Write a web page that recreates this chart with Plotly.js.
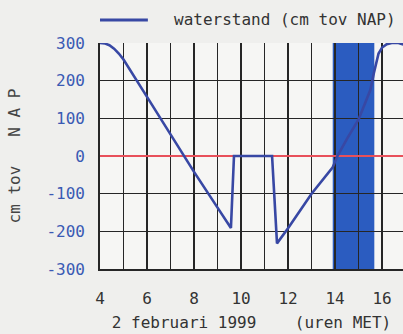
<!DOCTYPE html>
<html>
<head>
<meta charset="utf-8">
<script src="https://cdn.plot.ly/plotly-3.0.1.min.js"></script>
<style>
html,body{margin:0;padding:0;background:#efefed;overflow:hidden;}
#chart{width:403px;height:334px;}
</style>
</head>
<body>
<div id="chart"></div>
<script>
// Water level, 2 February 1999 (hours MET)
var hours = [4.0, 4.2, 4.4, 4.6, 4.8, 5.0, 6.0, 7.0, 8.0, 9.0, 9.57, 9.7, 11.32, 11.53, 12.0, 13.0, 13.9, 14.1, 14.5, 15.0, 15.5, 15.65, 15.75, 15.85, 16.0, 16.2, 16.45, 16.7, 16.9];
var waterstand = [300, 299, 294, 285, 272, 256, 157, 58, -42, -137, -191, 0, 0, -232, -192, -100, -30, 0, 45, 97, 175, 220, 250, 272, 288, 297, 301, 300, 296];

// shaded period
var highlightStart = 13.9;
var highlightEnd = 15.67;

var xTickVals = [4, 6, 8, 10, 12, 14, 16];
var xTickText = ['4', '6', '8', '10', '12', '14', '16'];
var yTickVals = [300, 200, 100, 0, -100, -200, -300];
var yTickText = ['300', '200', '100', '0', '-100', '-200', '-300'];

var seriesName = 'waterstand (cm tov NAP)';
var xTitle = '2 februari 1999\u00a0\u00a0\u00a0\u00a0(uren MET)';
var yTitle = 'cm tov\u00a0\u00a0\u00a0N A P';

var mono = 'DejaVu Sans Mono, Liberation Mono, monospace';
var gridCol = '#262626';

var trace = {
  x: hours, y: waterstand, type: 'scatter', mode: 'lines',
  name: seriesName, showlegend: false,
  line: {color: '#3848a4', width: 2.6}
};

var layout = {
  width: 403, height: 334,
  margin: {l: 100, r: 0, t: 43, b: 65},
  paper_bgcolor: '#efefed',
  plot_bgcolor: '#f6f6f4',
  showlegend: false,
  font: {family: mono, size: 16, color: '#333'},
  xaxis: {
    range: [4, 16.89], tickvals: xTickVals, ticktext: xTickText,
    showgrid: true, gridcolor: gridCol, gridwidth: 1.6,
    minor: {dtick: 1, tick0: 4, showgrid: true, gridcolor: gridCol, gridwidth: 1.6},
    zeroline: false, showline: true, linecolor: gridCol, linewidth: 1.8, mirror: false,
    ticks: '', ticklabelstandoff: 14,
    tickfont: {family: mono, size: 16, color: '#333'},
    title: {text: xTitle, font: {family: mono, size: 16, color: '#333'}, standoff: 10}
  },
  yaxis: {
    range: [-300, 300], tickvals: yTickVals, ticktext: yTickText,
    showgrid: true, gridcolor: gridCol, gridwidth: 1.6,
    zeroline: true, zerolinecolor: '#e8505a', zerolinewidth: 2,
    showline: true, linecolor: gridCol, linewidth: 1.8, mirror: false,
    ticks: '', ticklabelstandoff: 10,
    tickfont: {family: mono, size: 16, color: '#3a5ab4'},
    title: {text: yTitle, font: {family: mono, size: 16, color: '#444'}, standoff: 22}
  },
  shapes: [
    {type: 'rect', xref: 'x', yref: 'y', x0: highlightStart, x1: highlightEnd, y0: -300, y1: 300,
     fillcolor: '#2b5cc0', line: {width: 0}, layer: 'below'},
    {type: 'line', xref: 'paper', yref: 'paper', x0: 0, x1: 0.158, y0: 1.102, y1: 1.102,
     line: {color: '#3848a4', width: 3}}
  ],
  annotations: [
    {xref: 'paper', yref: 'paper', x: 0.2376, y: 1.102, xanchor: 'left', yanchor: 'middle',
     text: seriesName, showarrow: false, font: {family: mono, size: 16, color: '#333'}}
  ]
};

Plotly.newPlot('chart', [trace], layout, {displayModeBar: false, staticPlot: true});
</script>
</body>
</html>
